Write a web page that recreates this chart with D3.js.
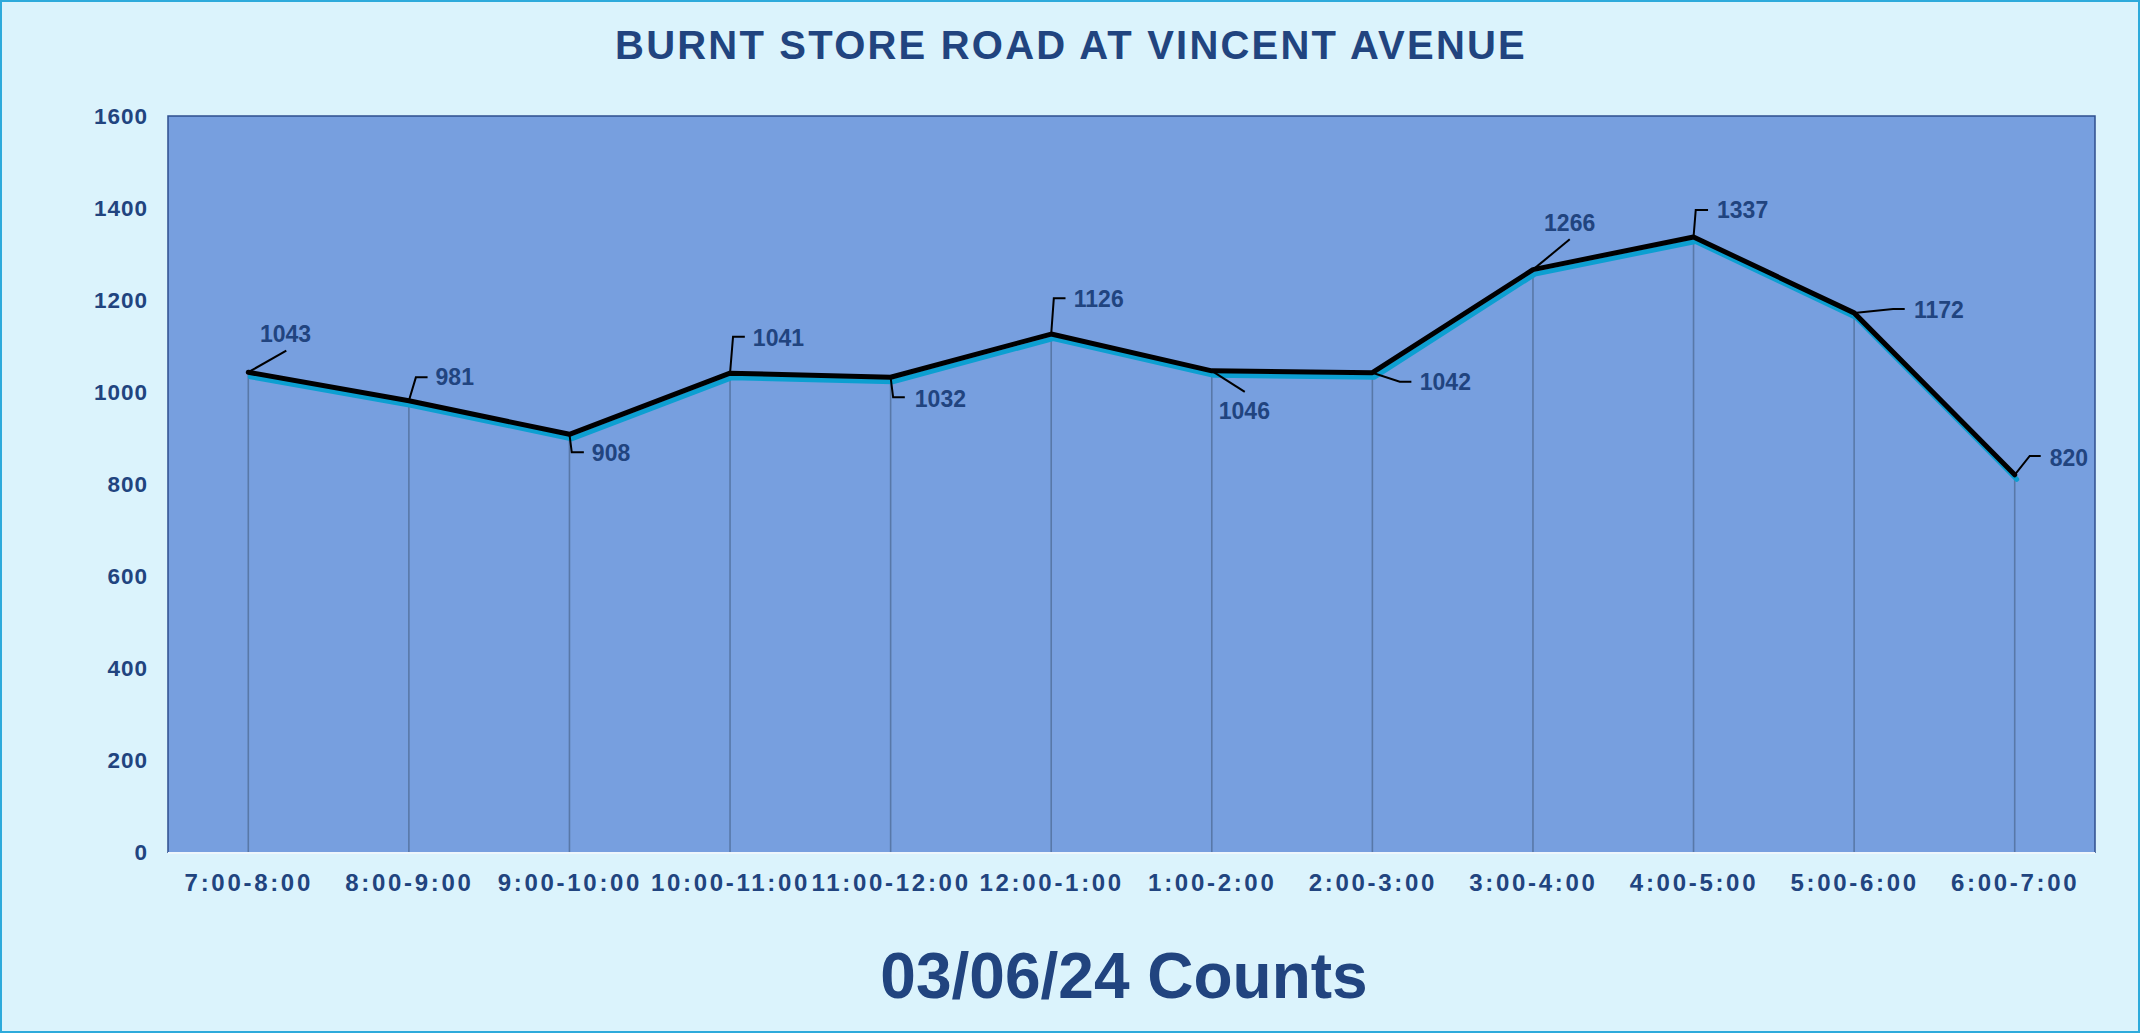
<!DOCTYPE html>
<html>
<head>
<meta charset="utf-8">
<script src="https://cdn.jsdelivr.net/npm/d3@7"></script>
<style>
  html, body { margin: 0; padding: 0; background: #dbf3fc; }
  svg { display: block; }
  text { font-family: "Liberation Sans", Arial, sans-serif; font-weight: bold; fill: #21447f; }
</style>
</head>
<body>
<svg id="chart" width="2140" height="1033"></svg>
<script>
// Hourly traffic counts
const categories = ["7:00-8:00", "8:00-9:00", "9:00-10:00", "10:00-11:00", "11:00-12:00", "12:00-1:00",
                    "1:00-2:00", "2:00-3:00", "3:00-4:00", "4:00-5:00", "5:00-6:00", "6:00-7:00"];
const counts = [1043, 981, 908, 1041, 1032, 1126, 1046, 1042, 1266, 1337, 1172, 820];
const yTicks = [0, 200, 400, 600, 800, 1000, 1200, 1400, 1600];
const chartTitle = "BURNT STORE ROAD AT VINCENT AVENUE";
const subTitle = "03/06/24 Counts";

// Label callout placement, relative to each point: leader polyline and text anchor (left/baseline)
const calloutLayout = [
  { leader: [[0, 0], [38, -21.5]],                 text: [11.6, -30.2] },
  { leader: [[0, 0], [7, -23.4], [18.7, -23.4]],   text: [26.7, -15.7] },
  { leader: [[0, 0], [2.3, 18], [14.4, 18]],       text: [22.4, 26.7] },
  { leader: [[0, 0], [3, -36.4], [14.8, -36.4]],   text: [22.8, -27.1] },
  { leader: [[0, 0], [2.5, 20], [14.2, 20]],       text: [24.2, 29.4] },
  { leader: [[0, 0], [2.6, -35.7], [14.3, -35.7]], text: [22.6, -27.3] },
  { leader: [[0, 0], [33, 21]],                    text: [7, 47.7] },
  { leader: [[0, 0], [27.4, 9], [39, 9]],          text: [47.4, 17.3] },
  { leader: [[0, 0], [36.8, -30.3]],               text: [11.1, -38.9] },
  { leader: [[0, 0], [2.2, -27], [14.5, -27]],     text: [23.5, -18.7] },
  { leader: [[0, 0], [39, -3.9], [50.6, -3.9]],    text: [59.9, 4.8] },
  { leader: [[0, 0], [15, -18.8], [26, -18.8]],    text: [35, -8.8] }
];

const W = 2140, H = 1033;
const plot = { left: 168, right: 2095, top: 116, bottom: 852 };

const svg = d3.select("#chart");

// Outer frame
svg.append("rect")
  .attr("x", 1).attr("y", 1).attr("width", W - 2).attr("height", H - 2)
  .attr("fill", "#dbf3fc").attr("stroke", "#2daadb").attr("stroke-width", 2);

const x = d3.scalePoint().domain(categories).range([plot.left, plot.right]).padding(0.5);
const y = d3.scaleLinear().domain([0, 1600]).range([plot.bottom, plot.top]);

// Plot area
svg.append("rect")
  .attr("x", plot.left).attr("y", plot.top)
  .attr("width", plot.right - plot.left).attr("height", plot.bottom - plot.top)
  .attr("fill", "#779fdf");

// Plot border: dark on left/top/right, light along the category axis
svg.append("path")
  .attr("d", `M${plot.left},${plot.bottom + 1}V${plot.top}H${plot.right}V${plot.bottom + 1}`)
  .attr("fill", "none").attr("stroke", "#2f4f8f").attr("stroke-width", 1.5);

// Drop lines from each point to the axis
svg.append("g").selectAll("line")
  .data(counts)
  .join("line")
  .attr("x1", (d, i) => x(categories[i])).attr("x2", (d, i) => x(categories[i]))
  .attr("y1", d => y(d)).attr("y2", plot.bottom)
  .attr("stroke", "#5878a8").attr("stroke-width", 1.6);

svg.append("line")
  .attr("x1", plot.left).attr("x2", plot.right)
  .attr("y1", plot.bottom + 1).attr("y2", plot.bottom + 1)
  .attr("stroke", "#eef6fc").attr("stroke-width", 2);

// Y axis
const yAxis = d3.axisLeft(y).tickValues(yTicks).tickFormat(d3.format("d")).tickSize(0).tickPadding(20);
const gy = svg.append("g").attr("transform", `translate(${plot.left},0)`).call(yAxis);
gy.select(".domain").remove();
gy.selectAll("text")
  .attr("font-size", 22.5).attr("letter-spacing", 1)
  .attr("font-family", "'Liberation Sans', Arial, sans-serif")
  .attr("font-weight", "bold").attr("fill", "#21447f");

// X axis
const xAxis = d3.axisBottom(x).tickSize(0).tickPadding(21);
const gx = svg.append("g").attr("transform", `translate(0,${plot.bottom})`).call(xAxis);
gx.select(".domain").remove();
gx.selectAll("text")
  .attr("font-size", 24).attr("letter-spacing", 2.7)
  .attr("dy", null).attr("y", 38.7)
  .attr("font-family", "'Liberation Sans', Arial, sans-serif")
  .attr("font-weight", "bold").attr("fill", "#21447f");

// Series line with its cyan shadow
const line = d3.line().x((d, i) => x(categories[i])).y(d => y(d)).curve(d3.curveLinear);

svg.append("path")
  .datum(counts)
  .attr("d", line)
  .attr("transform", "translate(2,4.5)")
  .attr("fill", "none").attr("stroke", "#0c9fd1").attr("stroke-width", 5)
  .attr("stroke-linejoin", "round").attr("stroke-linecap", "round");

svg.append("path")
  .datum(counts)
  .attr("d", line)
  .attr("fill", "none").attr("stroke", "#000").attr("stroke-width", 5)
  .attr("stroke-linejoin", "round").attr("stroke-linecap", "round");

// Value callouts
const callouts = svg.append("g").selectAll("g")
  .data(counts)
  .join("g")
  .attr("transform", (d, i) => `translate(${x(categories[i])},${y(d)})`);

callouts.append("path")
  .attr("d", (d, i) => d3.line()(calloutLayout[i].leader))
  .attr("fill", "none").attr("stroke", "#000").attr("stroke-width", 2);

callouts.append("text")
  .attr("x", (d, i) => calloutLayout[i].text[0])
  .attr("y", (d, i) => calloutLayout[i].text[1])
  .attr("font-size", 23)
  .text(d => d);

// Titles
svg.append("text")
  .attr("x", 1071).attr("y", 58.5)
  .attr("text-anchor", "middle")
  .attr("font-size", 40).attr("letter-spacing", 2.2)
  .text(chartTitle);

svg.append("text")
  .attr("x", 1124).attr("y", 998)
  .attr("text-anchor", "middle")
  .attr("font-size", 64)
  .text(subTitle);
</script>
</body>
</html>
